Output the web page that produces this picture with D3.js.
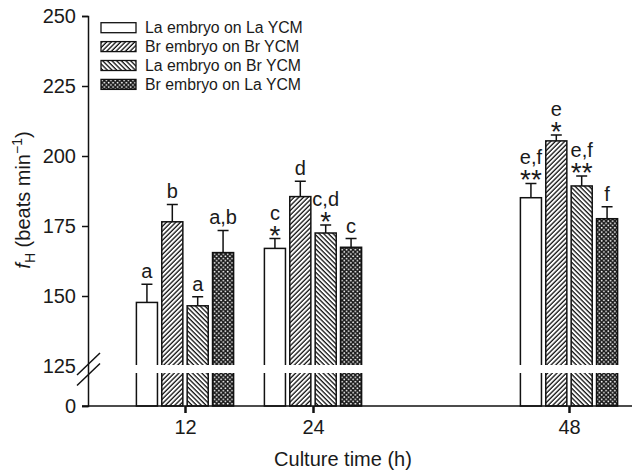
<!DOCTYPE html>
<html>
<head>
<meta charset="utf-8">
<script src="https://cdn.jsdelivr.net/npm/d3@7"></script>
<style>
  body { margin: 0; background: #fff; }
  text { font-family: "Liberation Sans", Arial, sans-serif; fill: #1a1a1a; }
</style>
</head>
<body>
<div id="chart"></div>
<script>
const w = 643;
const h = 472;

// data
const times = [12, 24, 48];
const groups = ['La embryo on La YCM', 'Br embryo on Br YCM', 'La embryo on Br YCM', 'Br embryo on La YCM'];
const laLa = [147.7, 167.0, 185.1];
const brBr = [176.5, 185.5, 205.4];
const laBr = [146.5, 172.5, 189.3];
const brLa = [165.5, 167.4, 177.6];
const laLaErr = [6.5, 3.5, 5.1];
const brBrErr = [6.2, 5.5, 2.1];
const laBrErr = [3.2, 2.9, 3.6];
const brLaErr = [7.9, 3.1, 4.3];
const laLaLetter = ['a', 'c', 'e,f'];
const brBrLetter = ['b', 'd', 'e'];
const laBrLetter = ['a', 'c,d', 'e,f'];
const brLaLetter = ['a,b', 'c', 'f'];
const laLaStar = ['', '*', '**'];
const brBrStar = ['', '', '*'];
const laBrStar = ['', '*', '**'];
const brLaStar = ['', '', ''];
const yTicks = [0, 125, 150, 175, 200, 225, 250];

const series = [
    { name: groups[0], vals: laLa, err: laLaErr, letter: laLaLetter, star: laLaStar, fill: '#fff' },
    { name: groups[1], vals: brBr, err: brBrErr, letter: brBrLetter, star: brBrStar, fill: 'url(#hatchUp)' },
    { name: groups[2], vals: laBr, err: laBrErr, letter: laBrLetter, star: laBrStar, fill: 'url(#hatchDown)' },
    { name: groups[3], vals: brLa, err: brLaErr, letter: brLaLetter, star: brLaStar, fill: 'url(#dots)' }
];

const svg = d3.select('#chart')
    .append('svg')
    .attr('width', w)
    .attr('height', h);

// patterns
const defs = svg.append('defs');
defs.append('pattern')
    .attr('id', 'hatchUp')
    .attr('patternUnits', 'userSpaceOnUse')
    .attr('width', 3.3).attr('height', 3.3)
    .attr('patternTransform', 'rotate(45)')
    .call(p => {
        p.append('rect').attr('width', 3.3).attr('height', 3.3).attr('fill', '#fff');
        p.append('line').attr('x1', 1).attr('x2', 1).attr('y1', 0).attr('y2', 3.3)
            .attr('stroke', '#111').attr('stroke-width', 1.3);
    });
defs.append('pattern')
    .attr('id', 'hatchDown')
    .attr('patternUnits', 'userSpaceOnUse')
    .attr('width', 3.3).attr('height', 3.3)
    .attr('patternTransform', 'rotate(-45)')
    .call(p => {
        p.append('rect').attr('width', 3.3).attr('height', 3.3).attr('fill', '#fff');
        p.append('line').attr('x1', 1).attr('x2', 1).attr('y1', 0).attr('y2', 3.3)
            .attr('stroke', '#111').attr('stroke-width', 1.3);
    });
defs.append('pattern')
    .attr('id', 'dots')
    .attr('patternUnits', 'userSpaceOnUse')
    .attr('width', 4.4).attr('height', 4.4)
    .call(p => {
        p.append('rect').attr('width', 4.4).attr('height', 4.4).attr('fill', '#1a1a1a');
        p.append('circle').attr('cx', 1.1).attr('cy', 1.1).attr('r', 0.9).attr('fill', '#fff');
        p.append('circle').attr('cx', 3.3).attr('cy', 3.3).attr('r', 0.9).attr('fill', '#fff');
    });

// scales (broken y axis: 0..125 squeezed)
const x = d3.scaleLinear().domain([12, 48]).range([185, 569]);
const xBand = d3.scaleBand().domain(groups).range([-48.6, 48.6]).paddingInner(0.17);
const y = d3.scaleLinear().domain([0, 125, 250]).range([406, 366, 16]);

// bars
series.forEach(s => {
    const g = svg.append('g');
    const cx = (d, i) => x(times[i]) + xBand(s.name) + xBand.bandwidth() / 2;

    g.selectAll('rect')
        .data(s.vals)
        .enter()
        .append('rect')
        .attr('x', (d, i) => x(times[i]) + xBand(s.name))
        .attr('y', d => y(d))
        .attr('width', xBand.bandwidth())
        .attr('height', d => y(0) - y(d))
        .attr('fill', s.fill)
        .attr('stroke', '#111')
        .attr('stroke-width', 1.5);

    // error bars
    g.selectAll('.err')
        .data(s.vals)
        .enter()
        .append('path')
        .attr('d', (d, i) => {
            const c = cx(d, i), top = y(d + s.err[i]);
            return `M${c},${y(d)}V${top}M${c - 5.5},${top}H${c + 5.5}`;
        })
        .attr('stroke', '#111')
        .attr('stroke-width', 1.5)
        .attr('fill', 'none');

    // asterisks
    g.selectAll('.star')
        .data(s.vals)
        .enter()
        .append('text')
        .attr('x', (d, i) => cx(d, i))
        .attr('y', (d, i) => y(d + s.err[i]) + 6)
        .attr('text-anchor', 'middle')
        .style('font-size', '28px')
        .text((d, i) => s.star[i]);

    // letters
    g.selectAll('.letter')
        .data(s.vals)
        .enter()
        .append('text')
        .attr('x', (d, i) => cx(d, i))
        .attr('y', (d, i) => y(d + s.err[i]) - (s.star[i] ? 19 : 6))
        .attr('text-anchor', 'middle')
        .style('font-size', '20px')
        .text((d, i) => s.letter[i]);
});

// white gap for the axis break
svg.append('rect')
    .attr('x', 90)
    .attr('y', y(125) - 1)
    .attr('width', w - 90)
    .attr('height', 8)
    .attr('fill', '#fff');

// y axis
const yAxis = d3.axisLeft(y)
    .tickValues(yTicks)
    .tickSize(6)
    .tickPadding(6)
    .tickFormat(d3.format('d'));

const yg = svg.append('g')
    .attr('transform', 'translate(88,0)')
    .call(yAxis);
yg.select('.domain').attr('stroke', '#111').attr('stroke-width', 1.5);
yg.selectAll('.tick line').attr('stroke', '#111').attr('stroke-width', 1.5);
yg.selectAll('.tick line').filter(d => d === 125).remove();
yg.selectAll('.tick text').style('font-size', '20px').attr('fill', '#1a1a1a')
    .attr('font-family', null);

// break marks
[0, 10.5].forEach(off => {
    svg.append('line')
        .attr('x1', 77).attr('y1', y(125) + 9 + off)
        .attr('x2', 100).attr('y2', y(125) - 13 + off)
        .attr('stroke', '#111')
        .attr('stroke-width', 1.5);
});

// x axis
svg.append('line')
    .attr('x1', 82).attr('x2', 632)
    .attr('y1', y(0)).attr('y2', y(0))
    .attr('stroke', '#111')
    .attr('stroke-width', 1.5);

const xAxis = d3.axisBottom(x).tickValues(times).tickSize(7).tickPadding(7);
const xg = svg.append('g')
    .attr('transform', `translate(0,${y(0)})`)
    .call(xAxis);
xg.select('.domain').remove();
xg.selectAll('.tick line').attr('stroke', '#111').attr('stroke-width', 2.5);
xg.selectAll('.tick text').style('font-size', '20px').attr('fill', '#1a1a1a')
    .attr('font-family', null);

// axis titles
svg.append('text')
    .attr('x', x(24) + 30)
    .attr('y', 466)
    .attr('text-anchor', 'middle')
    .style('font-size', '20px')
    .text('Culture time (h)');

const yl = svg.append('text')
    .attr('transform', 'translate(30,200) rotate(-90)')
    .attr('text-anchor', 'middle')
    .style('font-size', '20px');
yl.append('tspan').style('font-style', 'italic').text('f');
yl.append('tspan').attr('dy', 5).style('font-size', '14px').text('H');
yl.append('tspan').attr('dy', -5).text(' (beats min');
yl.append('tspan').attr('dy', -8).style('font-size', '14px').text('−1');
yl.append('tspan').attr('dy', 8).text(')');

// legend
const legend = svg.append('g')
    .attr('transform', 'translate(101,22.7)');
const items = legend.selectAll('g')
    .data(series)
    .enter()
    .append('g')
    .attr('transform', (d, i) => `translate(0,${i * 18.9})`);
items.append('rect')
    .attr('width', 35)
    .attr('height', 10)
    .attr('fill', d => d.fill)
    .attr('stroke', '#111')
    .attr('stroke-width', 1.3);
items.append('text')
    .attr('x', 44)
    .attr('y', 10.5)
    .style('font-size', '15.8px')
    .text(d => d.name);
</script>
</body>
</html>
